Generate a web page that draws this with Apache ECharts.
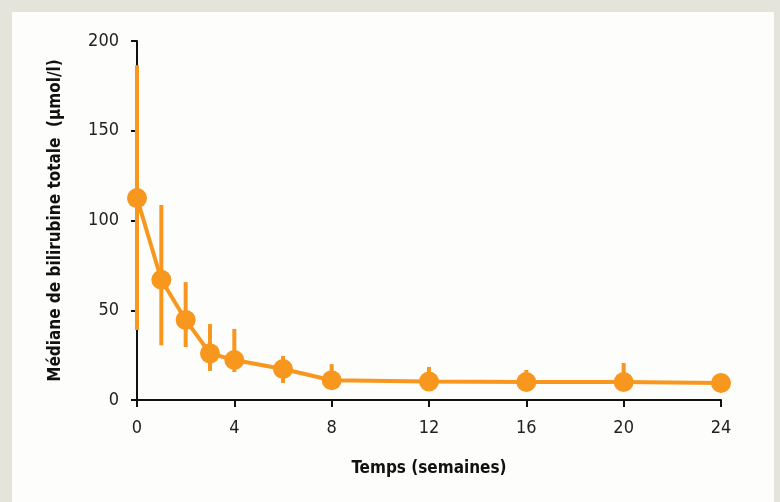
<!DOCTYPE html>
<html>
<head>
<meta charset="utf-8">
<script src="https://cdn.jsdelivr.net/npm/echarts@6/dist/echarts.min.js"></script>
<style>
  html, body { margin: 0; padding: 0; }
  body { width: 780px; height: 502px; background: #e4e4da; position: relative; overflow: hidden; }
  .panel { position: absolute; left: 12px; top: 12px; width: 762px; height: 500px; background: #fdfdfc; }
  #chart { position: absolute; left: 0; top: 0; width: 780px; height: 502px; }
</style>
</head>
<body>
<div class="panel"></div>
<div id="chart"></div>
<script>
// semaines et médianes
var weeks = [0, 1, 2, 3, 4, 6, 8, 12, 16, 20, 24]
var median = [112.5, 67, 44.6, 26, 22.3, 17.3, 11, 10.3, 10, 10, 9.5]
// barres d'erreur (bas / haut)
var errLow = [39, 30.5, 29.5, 16.2, 15.6, 9.5, 6, 6, 5, 6, null]
var errHigh = [186.5, 108.6, 65.7, 42.3, 39.6, 24.5, 20, 18.4, 16.7, 20.6, null]
var xTicks = [0, 4, 8, 12, 16, 20, 24]

var orange = '#f7971e'
var font = '"Liberation Sans Narrow", "DejaVu Sans Condensed", "Roboto Condensed", "Open Sans", sans-serif'

var lineData = []
var errData = []
for (let i = 0; i < weeks.length; i++) {
  lineData.push([weeks[i], median[i]])
  if (errLow[i] != null) {
    errData.push([weeks[i], errLow[i], errHigh[i]])
  }
}

var chart = echarts.init(document.getElementById('chart'))
chart.setOption({
  backgroundColor: 'transparent',
  animation: false,
  grid: { left: 137, right: 59, top: 41, bottom: 102 },
  xAxis: {
    type: 'value',
    min: 0,
    max: 24,
    interval: 4,
    name: 'Temps (semaines)',
    nameLocation: 'middle',
    nameGap: 60,
    nameTextStyle: { fontFamily: font, fontWeight: 'bold', fontSize: 17, color: '#111' },
    axisLine: { lineStyle: { color: '#111', width: 2 } },
    axisTick: { length: 7, lineStyle: { color: '#111', width: 2 } },
    axisLabel: {
      fontFamily: font, fontSize: 18, color: '#222', margin: 19,
      formatter: function (v) { return xTicks.indexOf(v) >= 0 ? String(v) : '' }
    },
    splitLine: { show: false }
  },
  yAxis: {
    type: 'value',
    min: 0,
    max: 200,
    interval: 50,
    name: 'Médiane de bilirubine totale  (µmol/l)',
    nameLocation: 'middle',
    nameGap: 73,
    nameTextStyle: { fontFamily: font, fontWeight: 'bold', fontSize: 17, color: '#111' },
    axisLine: { show: true, lineStyle: { color: '#111', width: 2 } },
    axisTick: { show: true, length: 6, lineStyle: { color: '#111', width: 2 } },
    axisLabel: { fontFamily: font, fontSize: 18, color: '#222', margin: 18 },
    splitLine: { show: false }
  },
  series: [
    {
      type: 'custom',
      data: errData,
      z: 3,
      renderItem: function (params, api) {
        var top = api.coord([api.value(0), api.value(2)])
        var bot = api.coord([api.value(0), api.value(1)])
        return {
          type: 'line',
          shape: { x1: top[0], y1: top[1], x2: bot[0], y2: bot[1] },
          style: { stroke: orange, lineWidth: 4 }
        }
      }
    },
    {
      type: 'line',
      data: lineData,
      z: 4,
      symbol: 'circle',
      symbolSize: 20,
      lineStyle: { color: orange, width: 4 },
      itemStyle: { color: orange }
    }
  ]
})
</script>
</body>
</html>
